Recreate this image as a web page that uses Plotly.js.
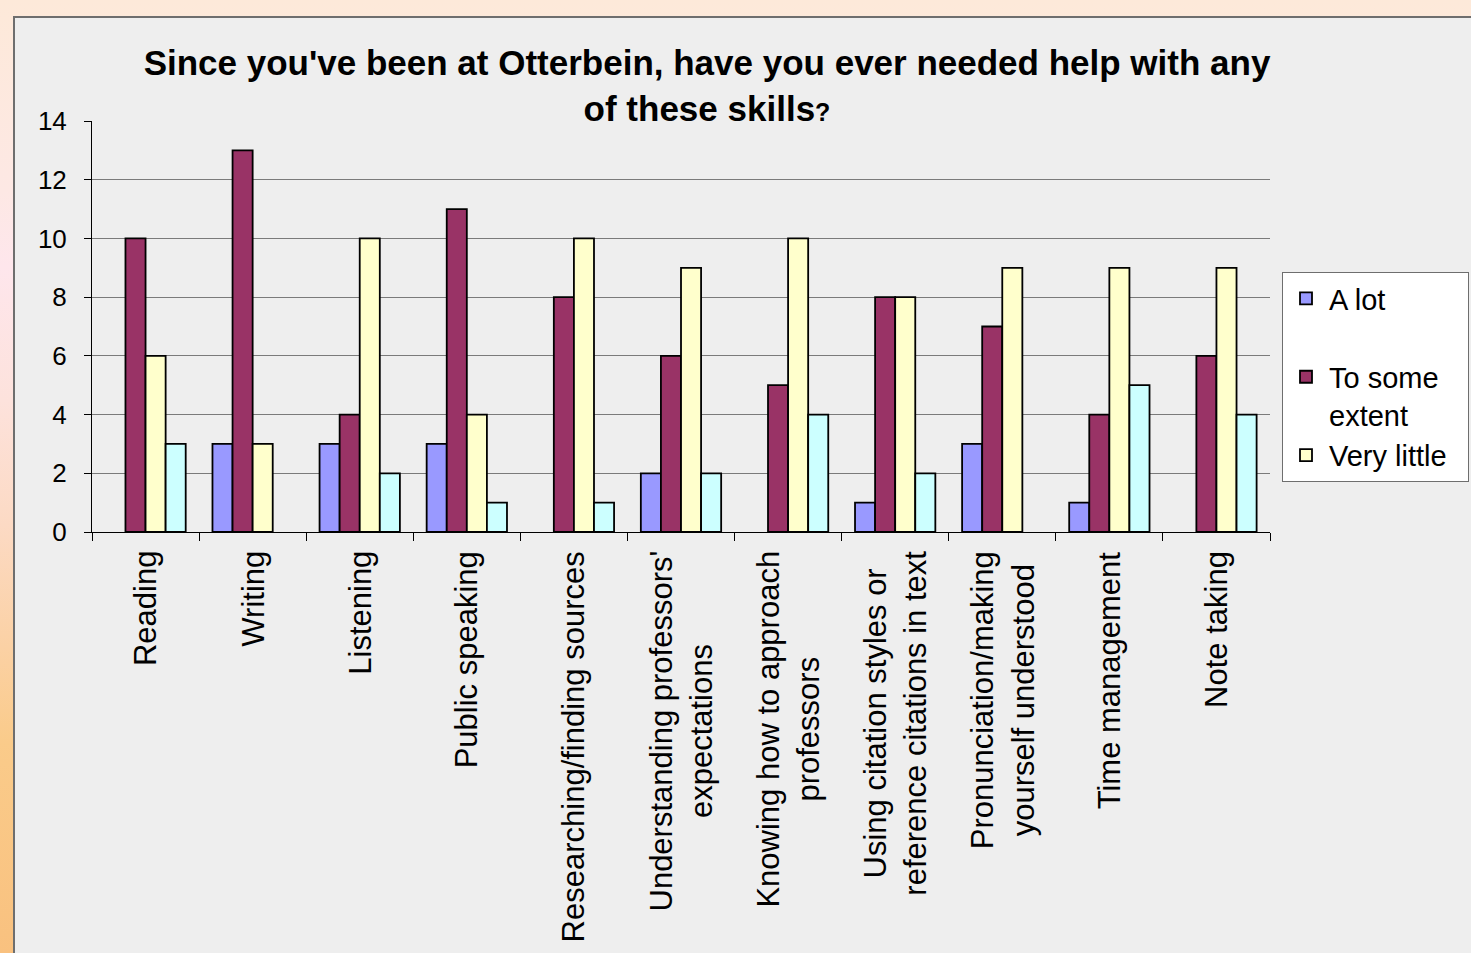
<!DOCTYPE html>
<html>
<head>
<meta charset="utf-8">
<script src="https://cdn.plot.ly/plotly-3.0.1.min.js"></script>
<style>
  html, body { margin:0; padding:0; width:1471px; height:953px; overflow:hidden; }
  body { background: linear-gradient(to bottom, #FDE9D9 0%, #FDE8E4 20%, #FEE6EC 28%, #FDE2DC 42%, #FCDAC4 55%, #FBD1A4 68%, #FACB8A 78%, #F9C17F 100%); position:relative; }
  #frame { position:absolute; left:13px; top:16px; width:1500px; height:1000px; background:#EEEEEE; border-left:2px solid #6E6E6E; border-top:2px solid #6E6E6E; }
  #chart { position:absolute; left:0; top:0; width:1471px; height:953px; }
</style>
</head>
<body>
<div id="frame"></div>
<div id="chart"></div>
<script>
const categories = [
  "Reading", "Writing", "Listening", "Public speaking", "Researching/finding sources",
  "Understanding professors'<br>expectations", "Knowing how to approach<br>professors",
  "Using citation styles or<br>reference citations in text", "Pronunciation/making<br>yourself understood",
  "Time management", "Note taking"
];
const seriesNames = ["A lot", "To some<br>extent", "Very little", "Not at all"];
const aLot        = [0, 3, 3, 3, 0, 2, 0, 1, 3, 1, 0];
const toSomeExtent= [10, 13, 4, 11, 8, 6, 5, 8, 7, 4, 6];
const veryLittle  = [6, 3, 10, 4, 10, 9, 10, 8, 9, 9, 9];
const notAtAll    = [3, 0, 2, 1, 1, 2, 4, 2, 0, 5, 4];
const colors = ["#9999FF", "#993366", "#FFFFCC", "#CCFFFF"];
const yTicks = [0, 2, 4, 6, 8, 10, 12, 14];

const legendLabels = [
  seriesNames[0] + "<br>&nbsp;",
  seriesNames[1],
  seriesNames[2] + "&nbsp;&nbsp;",
  seriesNames[3]
];

const values = [aLot, toSomeExtent, veryLittle, notAtAll];
const traces = values.map((v, i) => ({
  type: "bar",
  x: categories,
  // zero counts draw no bar (no outline sitting on the axis)
  y: v.map(n => (n === 0 ? null : n)),
  name: legendLabels[i],
  showlegend: i < 3,
  marker: { color: colors[i], line: { color: "#000000", width: 1.8 } },
  hoverinfo: "x+y"
}));

const annotations = categories.map(c => ({
  x: c, xref: "x", y: 0, yref: "paper", yanchor: "top", xanchor: "center",
  yshift: -17, text: c, textangle: -90, align: "center", showarrow: false,
  font: { family: "Liberation Sans, Arial, sans-serif", size: 31, color: "#000" }
}));

const layout = {
  width: 1471, height: 953,
  paper_bgcolor: "rgba(0,0,0,0)",
  plot_bgcolor: "rgba(0,0,0,0)",
  margin: { l: 92, r: 201, t: 121, b: 421, pad: 0, autoexpand: false },
  font: { family: "Liberation Sans, Arial, sans-serif", color: "#000" },
  title: {
    text: "<b>Since you've been at Otterbein, have you ever needed help with any<br>of these skills<span style=\"font-size:25px\">?</span></b>",
    font: { family: "Liberation Sans, Arial, sans-serif", size: 35, color: "#000" },
    x: 707 / 1471, xanchor: "center", xref: "container",
    y: 1 - 75 / 953, yanchor: "top", yref: "container"
  },
  barmode: "group", bargap: 0.25, bargroupgap: 0,
  xaxis: {
    type: "category", showticklabels: false, ticks: "outside", tickson: "boundaries",
    ticklen: 8, tickcolor: "#000", tickwidth: 1, showline: true, linecolor: "#000", linewidth: 1,
    showgrid: false, zeroline: false, fixedrange: true
  },
  yaxis: {
    range: [0, 14], tickvals: yTicks, ticktext: yTicks.map(String),
    ticks: "outside", ticklen: 7, tickcolor: "#000", tickwidth: 1,
    showline: true, linecolor: "#000", linewidth: 1,
    showgrid: true, gridcolor: "#7A7A7A", gridwidth: 1, zeroline: false,
    tickfont: { size: 26, family: "Liberation Sans, Arial, sans-serif", color: "#000" },
    ticklabelstandoff: 12, fixedrange: true
  },
  legend: {
    x: (1282 - 92) / 1178, xanchor: "left", y: (532 - 272) / 411, yanchor: "top",
    bgcolor: "#FFFFFF", bordercolor: "#6E6E6E", borderwidth: 1,
    font: { size: 29, family: "Liberation Sans, Arial, sans-serif", color: "#000" },
    valign: "top", traceorder: "normal", itemwidth: 36
  },
  annotations: annotations,
  showlegend: true
};

Plotly.newPlot("chart", traces, layout, { displayModeBar: false, staticPlot: true });
</script>
</body>
</html>
